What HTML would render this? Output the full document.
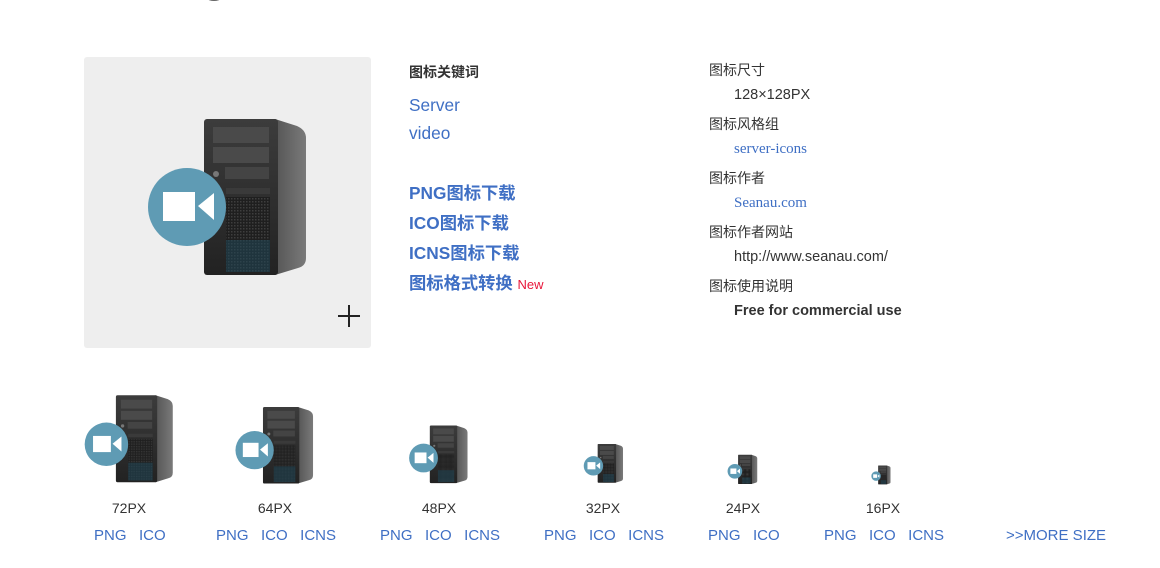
<!DOCTYPE html>
<html><head><meta charset="utf-8"><style>
body{margin:0;width:1160px;height:568px;background:#fff;position:relative;overflow:hidden;font-family:"Liberation Sans","Noto Sans CJK SC",sans-serif;}
.a{position:absolute;white-space:nowrap}
.blue{color:#3f6fc4}
.k{font-size:14px;color:#333}
.v{font-size:14.5px;color:#333}
.serif{font-family:"Liberation Serif","Noto Serif CJK SC",serif;color:#3f6fc4;font-size:15px}
.dl{font-size:17.3px;font-weight:bold;color:#3f6fc4}
.sz{font-size:14px;color:#333;text-align:center;width:80px}
.ln{font-size:15px;color:#3f6fc4}
svg.ic{position:absolute}
</style></head><body>
<svg width="0" height="0" style="position:absolute">
<defs>
<linearGradient id="side" x1="0" x2="1"><stop offset="0" stop-color="#555"/><stop offset="1" stop-color="#7a7a7a"/></linearGradient>
<linearGradient id="front" x1="0" x2="0" y1="0" y2="1"><stop offset="0" stop-color="#3c3c3c"/><stop offset="1" stop-color="#222"/></linearGradient>
<pattern id="mesh" width="3" height="3" patternUnits="userSpaceOnUse"><rect width="3" height="3" fill="#1f1f1f"/><rect width="1.5" height="1.5" fill="#3e3e3e"/></pattern>
<symbol id="srv" viewBox="145 115 165 165">
<ellipse cx="235" cy="270" rx="30" ry="5" fill="#ccc" opacity=".6"/>
<path d="M275 119 L297 126 Q306 130 306 138 L306 258 Q306 266 298 268 L275 275 Z" fill="url(#side)"/>
<rect x="204" y="119" width="74" height="156" rx="3" fill="url(#front)"/>
<rect x="213" y="127" width="56" height="16" fill="#4a4a4a"/>
<rect x="213" y="147" width="56" height="16" fill="#4a4a4a"/>
<rect x="225" y="167" width="44" height="12" fill="#444"/>
<circle cx="216" cy="174" r="3" fill="#777"/>
<rect x="226" y="188" width="44" height="6" fill="#3a3a3a"/>
<rect x="226" y="197" width="44" height="75" fill="url(#mesh)"/>
<rect x="226" y="240" width="44" height="32" fill="#1f4555" opacity=".55"/>
<circle cx="187" cy="207" r="39" fill="#5f9bb4"/>
<rect x="163" y="192" width="32" height="29" fill="#fff"/>
<path d="M198 206 L214 193 L214 220 Z" fill="#fff"/>
</symbol>
</defs></svg>

<div class="a" style="left:84px;top:57px;width:287px;height:291px;background:#eee;border-radius:3px"></div>
<svg class="ic" style="left:145px;top:115px" width="165" height="165"><use href="#srv"/></svg>
<div class="a" style="left:338px;top:315px;width:22px;height:2px;background:#222"></div>
<div class="a" style="left:348px;top:305px;width:2px;height:22px;background:#222"></div>

<div class="a" style="left:409px;top:62px;font-size:14px;font-weight:bold;color:#333">图标关键词</div>
<div class="a blue" style="left:409px;top:95px;font-size:17.3px">Server</div>
<div class="a blue" style="left:409px;top:123px;font-size:17.3px">video</div>
<div class="a dl" style="left:409px;top:179px">PNG图标下载</div>
<div class="a dl" style="left:409px;top:209px">ICO图标下载</div>
<div class="a dl" style="left:409px;top:239px">ICNS图标下载</div>
<div class="a dl" style="left:409px;top:269px">图标格式转换 <span style="font-weight:normal;color:#e8173a;font-size:13px">New</span></div>

<div class="a k" style="left:709px;top:60px">图标尺寸</div>
<div class="a v" style="left:734px;top:87px">128×128PX</div>
<div class="a k" style="left:709px;top:114px">图标风格组</div>
<div class="a serif" style="left:734px;top:141px">server-icons</div>
<div class="a k" style="left:709px;top:168px">图标作者</div>
<div class="a serif" style="left:734px;top:195px">Seanau.com</div>
<div class="a k" style="left:709px;top:222px">图标作者网站</div>
<div class="a v" style="left:734px;top:249px">http://www.seanau.com/</div>
<div class="a k" style="left:709px;top:276px">图标使用说明</div>
<div class="a v" style="left:734px;top:303px;font-weight:bold">Free for commercial use</div>

<svg class="ic" style="left:83px;top:393px" width="92" height="92"><use href="#srv"/></svg>
<svg class="ic" style="left:234px;top:405px" width="81" height="81"><use href="#srv"/></svg>
<svg class="ic" style="left:408px;top:424px" width="61" height="61"><use href="#srv"/></svg>
<svg class="ic" style="left:583px;top:443px" width="41" height="41"><use href="#srv"/></svg>
<svg class="ic" style="left:727px;top:454px" width="31" height="31"><use href="#srv"/></svg>
<svg class="ic" style="left:871px;top:465px" width="20" height="20"><use href="#srv"/></svg>

<div class="a sz" style="left:89px;top:500px">72PX</div>
<div class="a sz" style="left:235px;top:500px">64PX</div>
<div class="a sz" style="left:399px;top:500px">48PX</div>
<div class="a sz" style="left:563px;top:500px">32PX</div>
<div class="a sz" style="left:703px;top:500px">24PX</div>
<div class="a sz" style="left:843px;top:500px">16PX</div>

<div class="a ln" style="left:94px;top:527px">PNG&nbsp;&nbsp;&nbsp;ICO</div>
<div class="a ln" style="left:216px;top:527px">PNG&nbsp;&nbsp;&nbsp;ICO&nbsp;&nbsp;&nbsp;ICNS</div>
<div class="a ln" style="left:380px;top:527px">PNG&nbsp;&nbsp;&nbsp;ICO&nbsp;&nbsp;&nbsp;ICNS</div>
<div class="a ln" style="left:544px;top:527px">PNG&nbsp;&nbsp;&nbsp;ICO&nbsp;&nbsp;&nbsp;ICNS</div>
<div class="a ln" style="left:708px;top:527px">PNG&nbsp;&nbsp;&nbsp;ICO</div>
<div class="a ln" style="left:824px;top:527px">PNG&nbsp;&nbsp;&nbsp;ICO&nbsp;&nbsp;&nbsp;ICNS</div>
<div class="a ln" style="left:1006px;top:527px">&gt;&gt;MORE SIZE</div>

<div class="a" style="left:208px;top:-3px;width:12px;height:4px;border-radius:50%;background:#666"></div>
</body></html>
